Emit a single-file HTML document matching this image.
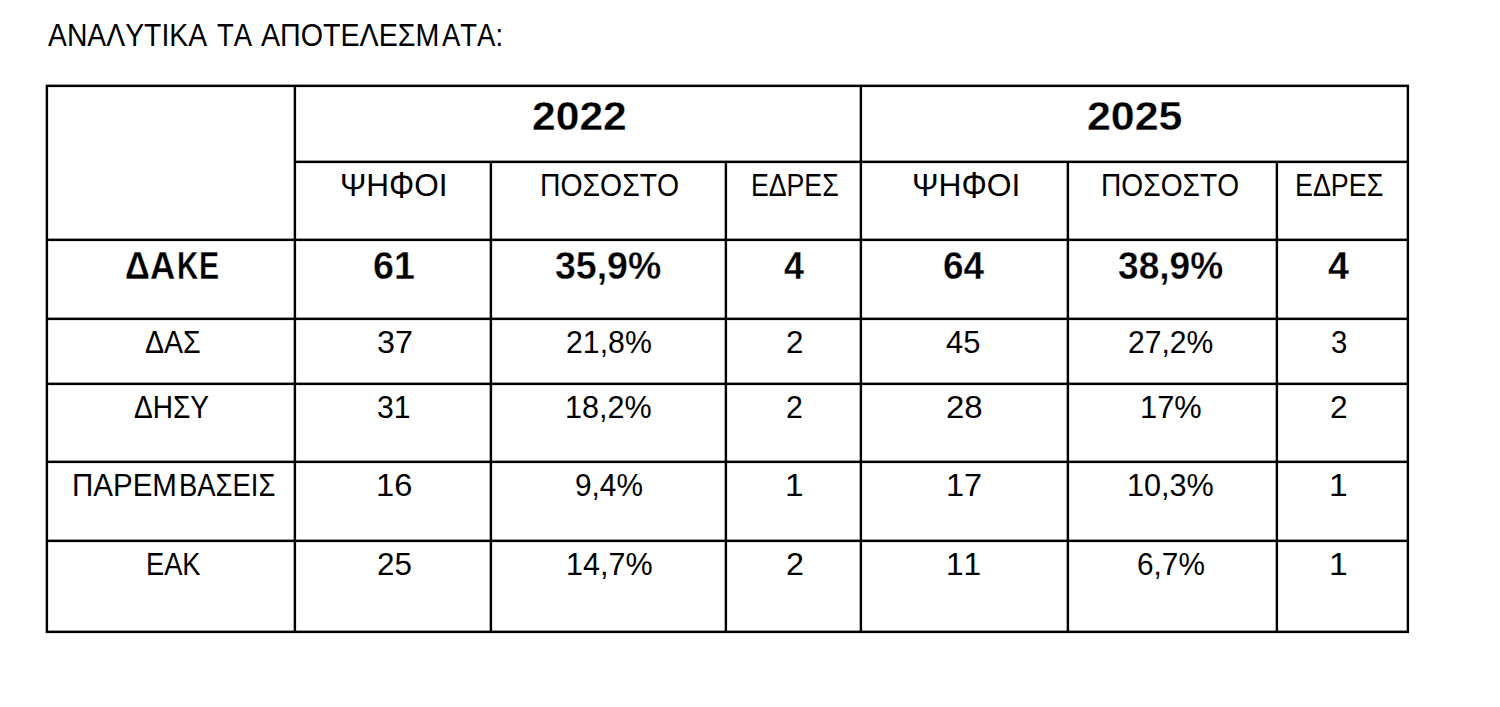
<!DOCTYPE html>
<html><head><meta charset="utf-8"><title>Results</title>
<style>
html,body{margin:0;padding:0;background:#fff;}
body{width:1500px;height:707px;position:relative;overflow:hidden;font-family:"Liberation Sans",sans-serif;color:#000;}
.l{position:absolute;background:#000;}
.v{box-shadow:-1px 0 0 rgba(0,0,0,.33),1px 0 0 rgba(0,0,0,.1);}
.h{box-shadow:0 -1px 0 rgba(0,0,0,.4),0 1px 0 rgba(0,0,0,.1);}
.t{position:absolute;white-space:nowrap;transform-origin:0 0;font-kerning:none;}
.b{font-weight:bold;-webkit-text-stroke:0.3px #fff;}
.ph{display:inline-block;transform:scaleY(1.17);}
</style></head><body>
<div class="l v" style="left:46px;top:85px;width:2px;height:548px"></div>
<div class="l v" style="left:294px;top:85px;width:2px;height:548px"></div>
<div class="l v" style="left:490px;top:161px;width:2px;height:472px"></div>
<div class="l v" style="left:725px;top:161px;width:2px;height:472px"></div>
<div class="l v" style="left:860px;top:85px;width:2px;height:548px"></div>
<div class="l v" style="left:1067px;top:161px;width:2px;height:472px"></div>
<div class="l v" style="left:1276px;top:161px;width:2px;height:472px"></div>
<div class="l v" style="left:1407px;top:85px;width:2px;height:548px"></div>
<div class="l h" style="left:46px;top:85px;width:1363px;height:2px"></div>
<div class="l h" style="left:294px;top:161px;width:1115px;height:2px"></div>
<div class="l h" style="left:46px;top:239px;width:1363px;height:2px"></div>
<div class="l h" style="left:46px;top:318px;width:1363px;height:2px"></div>
<div class="l h" style="left:46px;top:383px;width:1363px;height:2px"></div>
<div class="l h" style="left:46px;top:461px;width:1363px;height:2px"></div>
<div class="l h" style="left:46px;top:540px;width:1363px;height:2px"></div>
<div class="l h" style="left:46px;top:631px;width:1363px;height:2px"></div>
<div class="t" style="left:47.74px;top:19.92px;font-size:31.40px;line-height:31.40px;transform:scaleX(0.9028)">ΑΝΑΛΥΤΙΚΑ</div>
<div class="t" style="left:217.38px;top:19.92px;font-size:31.40px;line-height:31.40px;transform:scaleX(0.8742)">ΤΑ</div>
<div class="t" style="left:261.14px;top:19.92px;font-size:31.40px;line-height:31.40px;transform:scaleX(0.9120)">ΑΠΟΤΕΛΕΣΜ</div>
<div class="t" style="left:442.35px;top:19.92px;font-size:31.40px;line-height:31.40px;transform:scaleX(0.8751)">ΑΤΑ:</div>
<div class="t b" style="left:531.72px;top:97.16px;font-size:39.97px;line-height:39.97px;transform:scaleX(1.0659)">2022</div>
<div class="t b" style="left:1086.51px;top:97.16px;font-size:39.97px;line-height:39.97px;transform:scaleX(1.0738)">2025</div>
<div class="t" style="left:339.57px;top:170.42px;font-size:31.40px;line-height:31.40px;transform:scaleX(1.0042)">ΨΗ<span class="ph">Φ</span>ΟΙ</div>
<div class="t" style="left:539.57px;top:170.42px;font-size:31.40px;line-height:31.40px;transform:scaleX(0.9036)">ΠΟΣΟΣΤΟ</div>
<div class="t" style="left:751.01px;top:170.42px;font-size:31.40px;line-height:31.40px;transform:scaleX(0.8492)">ΕΔΡΕΣ</div>
<div class="t" style="left:911.75px;top:170.42px;font-size:31.40px;line-height:31.40px;transform:scaleX(1.0120)">ΨΗ<span class="ph">Φ</span>ΟΙ</div>
<div class="t" style="left:1101.29px;top:170.42px;font-size:31.40px;line-height:31.40px;transform:scaleX(0.8969)">ΠΟΣΟΣΤΟ</div>
<div class="t" style="left:1295.10px;top:170.42px;font-size:31.40px;line-height:31.40px;transform:scaleX(0.8553)">ΕΔΡΕΣ</div>
<div class="t b" style="left:125.20px;top:247.41px;font-size:38.37px;line-height:38.37px;transform:scaleX(0.8998)">Δ</div>
<div class="t b" style="left:149.93px;top:247.41px;font-size:38.37px;line-height:38.37px;transform:scaleX(0.9128)">Α</div>
<div class="t b" style="left:176.73px;top:247.41px;font-size:38.37px;line-height:38.37px;transform:scaleX(0.7665)">Κ</div>
<div class="t b" style="left:198.58px;top:247.41px;font-size:38.37px;line-height:38.37px;transform:scaleX(0.7850)">Ε</div>
<div class="t b" style="left:372.52px;top:247.41px;font-size:38.37px;line-height:38.37px;transform:scaleX(0.9799)">61</div>
<div class="t b" style="left:555.44px;top:247.41px;font-size:38.37px;line-height:38.37px;transform:scaleX(0.9775)">35,9%</div>
<div class="t b" style="left:783.86px;top:247.41px;font-size:38.37px;line-height:38.37px;transform:scaleX(0.9341)">4</div>
<div class="t b" style="left:943.05px;top:247.41px;font-size:38.37px;line-height:38.37px;transform:scaleX(0.9618)">64</div>
<div class="t b" style="left:1117.55px;top:247.41px;font-size:38.37px;line-height:38.37px;transform:scaleX(0.9681)">38,9%</div>
<div class="t b" style="left:1327.63px;top:247.41px;font-size:38.37px;line-height:38.37px;transform:scaleX(0.9828)">4</div>
<div class="t" style="left:145.45px;top:326.72px;font-size:31.40px;line-height:31.40px;transform:scaleX(0.9080)">ΔΑΣ</div>
<div class="t" style="left:376.87px;top:326.72px;font-size:31.40px;line-height:31.40px;transform:scaleX(1.0297)">37</div>
<div class="t" style="left:566.48px;top:326.72px;font-size:31.40px;line-height:31.40px;transform:scaleX(0.9638)">21,8%</div>
<div class="t" style="left:785.62px;top:326.72px;font-size:31.40px;line-height:31.40px;transform:scaleX(0.9998)">2</div>
<div class="t" style="left:946.49px;top:326.72px;font-size:31.40px;line-height:31.40px;transform:scaleX(0.9853)">45</div>
<div class="t" style="left:1127.99px;top:326.72px;font-size:31.40px;line-height:31.40px;transform:scaleX(0.9592)">27,2%</div>
<div class="t" style="left:1330.58px;top:326.72px;font-size:31.40px;line-height:31.40px;transform:scaleX(0.9338)">3</div>
<div class="t" style="left:134.36px;top:392.12px;font-size:31.40px;line-height:31.40px;transform:scaleX(0.8936)">ΔΗΣΥ</div>
<div class="t" style="left:377.25px;top:392.12px;font-size:31.40px;line-height:31.40px;transform:scaleX(0.9599)">31</div>
<div class="t" style="left:565.37px;top:392.12px;font-size:31.40px;line-height:31.40px;transform:scaleX(0.9730)">18,2%</div>
<div class="t" style="left:785.98px;top:392.12px;font-size:31.40px;line-height:31.40px;transform:scaleX(0.9649)">2</div>
<div class="t" style="left:946.34px;top:392.12px;font-size:31.40px;line-height:31.40px;transform:scaleX(1.0507)">28</div>
<div class="t" style="left:1140.25px;top:392.12px;font-size:31.40px;line-height:31.40px;transform:scaleX(0.9810)">17%</div>
<div class="t" style="left:1330.41px;top:392.12px;font-size:31.40px;line-height:31.40px;transform:scaleX(1.0068)">2</div>
<div class="t" style="left:71.58px;top:470.22px;font-size:31.40px;line-height:31.40px;transform:scaleX(0.9399)">ΠΑΡΕΜ</div>
<div class="t" style="left:178.75px;top:470.22px;font-size:31.40px;line-height:31.40px;transform:scaleX(0.8738)">ΒΑΣΕΙΣ</div>
<div class="t" style="left:376.31px;top:470.22px;font-size:31.40px;line-height:31.40px;transform:scaleX(1.0401)">16</div>
<div class="t" style="left:575.10px;top:470.22px;font-size:31.40px;line-height:31.40px;transform:scaleX(0.9497)">9,4%</div>
<div class="t" style="left:784.96px;top:470.22px;font-size:31.40px;line-height:31.40px;transform:scaleX(1.0638)">1</div>
<div class="t" style="left:946.33px;top:470.22px;font-size:31.40px;line-height:31.40px;transform:scaleX(1.0339)">17</div>
<div class="t" style="left:1127.17px;top:470.22px;font-size:31.40px;line-height:31.40px;transform:scaleX(0.9753)">10,3%</div>
<div class="t" style="left:1328.94px;top:470.22px;font-size:31.40px;line-height:31.40px;transform:scaleX(1.0712)">1</div>
<div class="t" style="left:145.76px;top:548.62px;font-size:31.40px;line-height:31.40px;transform:scaleX(0.8682)">ΕΑΚ</div>
<div class="t" style="left:376.52px;top:548.62px;font-size:31.40px;line-height:31.40px;transform:scaleX(0.9993)">25</div>
<div class="t" style="left:565.67px;top:548.62px;font-size:31.40px;line-height:31.40px;transform:scaleX(0.9730)">14,7%</div>
<div class="t" style="left:785.58px;top:548.62px;font-size:31.40px;line-height:31.40px;transform:scaleX(1.0278)">2</div>
<div class="t" style="left:946.39px;top:548.62px;font-size:31.40px;line-height:31.40px;transform:scaleX(1.0066)">11</div>
<div class="t" style="left:1136.79px;top:548.62px;font-size:31.40px;line-height:31.40px;transform:scaleX(0.9485)">6,7%</div>
<div class="t" style="left:1328.94px;top:548.62px;font-size:31.40px;line-height:31.40px;transform:scaleX(1.0712)">1</div>
</body></html>
